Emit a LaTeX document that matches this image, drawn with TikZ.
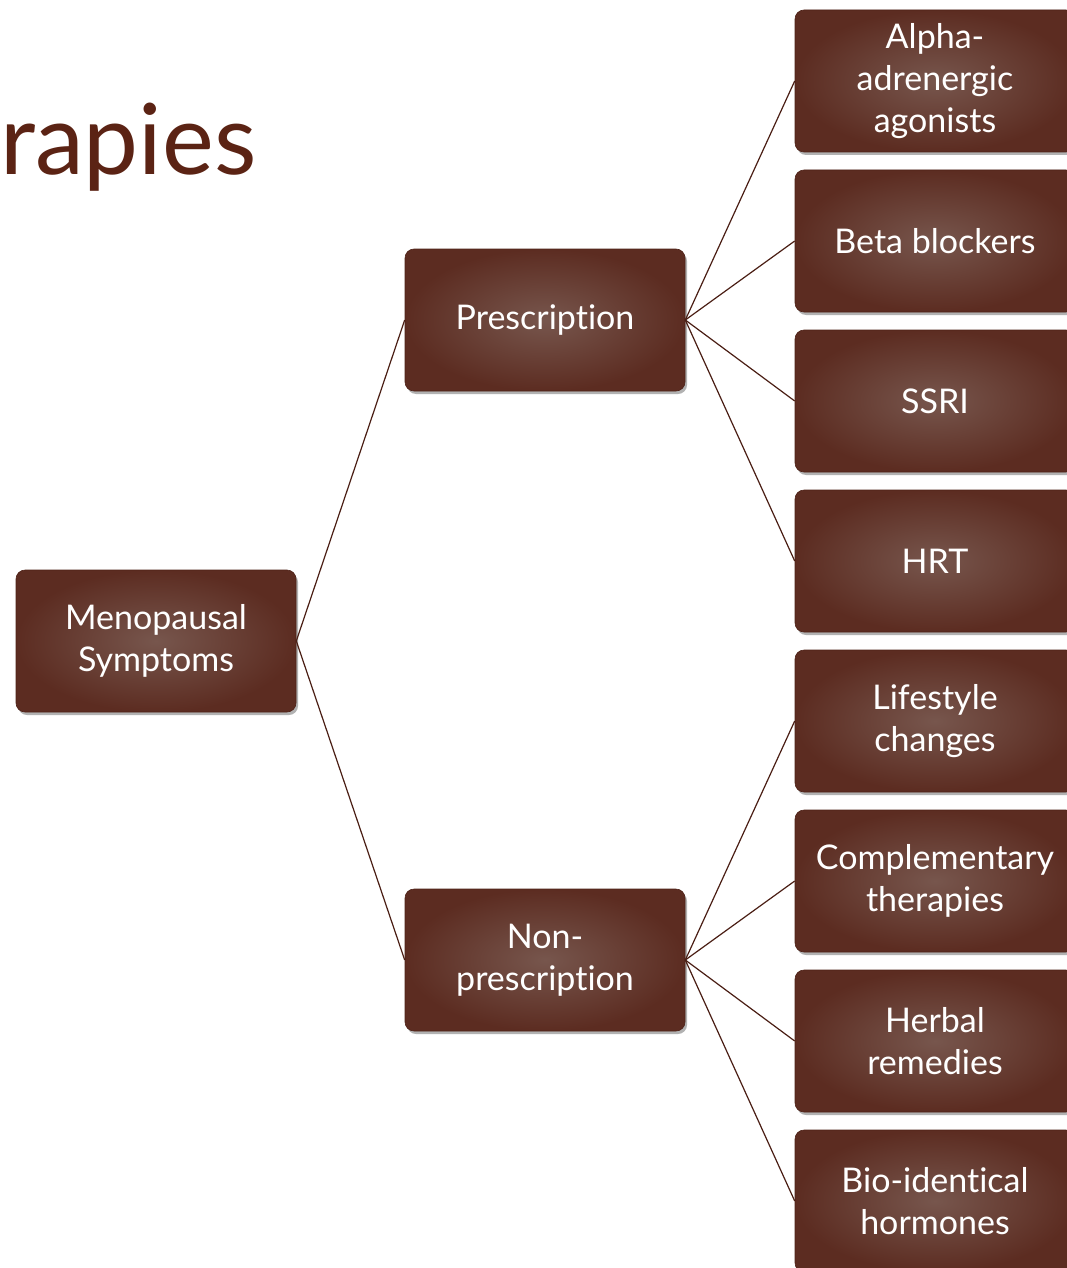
\documentclass[tikz,border=0pt]{standalone}
\usepackage{fontspec}
\setmainfont{Lato}[Ligatures=NoCommon]
\usetikzlibrary{shadows}
\definecolor{boxlight}{HTML}{77564D}
\definecolor{boxdark}{HTML}{5C2C21}
\definecolor{boxedge}{HTML}{4E2218}
\definecolor{linecol}{HTML}{4A1E14}
\definecolor{titlecol}{HTML}{5B2314}
\tikzset{
  tbox/.style={rectangle, rounded corners=9pt, minimum width=280pt, minimum height=142pt,
    inner sep=0pt, draw=boxedge, line width=0.6pt, inner color=boxlight, outer color=boxdark,
    text=white, align=center, font=\fontsize{34}{42}\selectfont,
    drop shadow={shadow xshift=2pt, shadow yshift=-3pt, opacity=0.3, fill=black}},
  conn/.style={draw=linecol, line width=1.2pt}
}
\begin{document}
\begin{tikzpicture}[x=1pt,y=-1pt]
\clip (0,0) rectangle (1067,1268);
\fill[white] (0,0) rectangle (1067,1268);
\node[anchor=base west, text=titlecol, font=\fontsize{98}{110}\selectfont, inner sep=0pt] (title) at (0,175) {rapies};
\node[tbox] (meno) at (156,641) {Menopausal\\Symptoms};
\node[tbox] (pres) at (545,320) {Prescription};
\node[tbox] (nonp) at (545,960) {Non-\\prescription};
\node[tbox] (r1) at (935,81) {Alpha-\\adrenergic\\agonists};
\node[tbox] (r2) at (935,241) {Beta blockers};
\node[tbox] (r3) at (935,401) {SSRI};
\node[tbox] (r4) at (935,561) {HRT};
\node[tbox] (r5) at (935,721) {Lifestyle\\changes};
\node[tbox] (r6) at (935,881) {Complementary\\therapies};
\node[tbox] (r7) at (935,1041) {Herbal\\remedies};
\node[tbox] (r8) at (935,1201) {Bio-identical\\hormones};
\draw[conn] (meno.east) -- (pres.west);
\draw[conn] (meno.east) -- (nonp.west);
\foreach \r in {r1,r2,r3,r4} \draw[conn] (pres.east) -- (\r.west);
\foreach \r in {r5,r6,r7,r8} \draw[conn] (nonp.east) -- (\r.west);
\end{tikzpicture}
\end{document}
